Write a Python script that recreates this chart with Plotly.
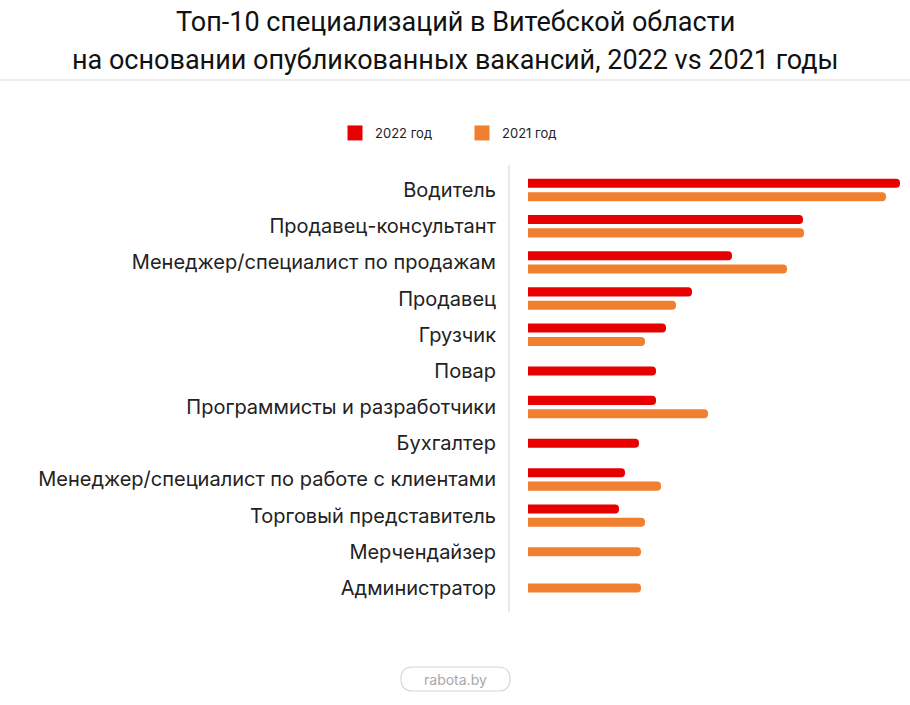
import plotly.graph_objects as go

categories = ["Водитель", "Продавец-консультант", "Менеджер/специалист по продажам",
              "Продавец", "Грузчик", "Повар", "Программисты и разработчики", "Бухгалтер",
              "Менеджер/специалист по работе с клиентами", "Торговый представитель",
              "Мерчендайзер", "Администратор"]
v2022 = [372, 275, 204, 164, 138, 128, 128, 111, 97, 91, None, None]
v2021 = [358, 276, 259, 148, 117, None, 180, None, 133, 117, 113, 113]
series_names = ["2022 год", "2021 год"]

RED = "#e60000"
ORANGE = "#f07f2f"
FONT = "Inter"
TFONT = "Roboto"

W, H = 910, 705
PL, PW, PT, PH = 510, 400, 165, 447


def px_x(x):
    return (x - PL) / PW


def px_y(y):
    return (PT + PH - y) / PH


BW = 0.25   # bar thickness in category units
GAP = 0.37  # distance between pair centres
off22, off21 = [], []
for a, b in zip(v2022, v2021):
    if a is not None and b is not None:
        off22.append(-GAP / 2 - BW / 2)
        off21.append(GAP / 2 - BW / 2)
    else:
        off22.append(-BW / 2)
        off21.append(-BW / 2)

fig = go.Figure()
for vals, offs, col, name in [(v2022, off22, RED, series_names[0]),
                              (v2021, off21, ORANGE, series_names[1])]:
    fig.add_trace(go.Bar(y=categories, x=vals, orientation="h", name=name,
                         legendgroup=name, showlegend=False,
                         marker=dict(color=col, line=dict(width=0), cornerradius="50%"),
                         width=BW, offset=offs, hoverinfo="y+x"))
for col, name in [(RED, series_names[0]), (ORANGE, series_names[1])]:
    fig.add_trace(go.Scatter(x=[None], y=[None], mode="markers", name=name,
                             legendgroup=name, showlegend=True, hoverinfo="skip",
                             marker=dict(symbol="square", size=15, color=col,
                                         line=dict(width=0))))

unit = 36.18
fig.update_layout(
    width=W, height=H,
    margin=dict(l=PL, r=W - PL - PW, t=PT, b=H - PT - PH, pad=0),
    paper_bgcolor="white", plot_bgcolor="white",
    barmode="overlay",
    font=dict(family=FONT, color="#222222"),
    xaxis=dict(range=[-18, 382], visible=False, fixedrange=True),
    yaxis=dict(type="category", categoryarray=categories,
               range=[11 + (PT + PH - 588) / unit, -(190 - PT) / unit],
               showgrid=False, zeroline=False, showline=True, linecolor="#e8e8e8",
               linewidth=2, ticks="", ticklabelstandoff=8,
               tickfont=dict(size=20, color="#222222", family=FONT), fixedrange=True),
    legend=dict(orientation="h", x=px_x(335), y=px_y(133), xanchor="left", yanchor="middle",
                font=dict(size=13, color="#222222", family=FONT), entrywidth=82,
                entrywidthmode="pixels", itemsizing="trace",
                itemclick=False, itemdoubleclick=False),
    showlegend=True,
)

# Title (two lines)
fig.add_annotation(text="Топ-10 специализаций в Витебской области", xref="paper", yref="paper",
                   x=px_x(455), y=px_y(22), xanchor="center", yanchor="middle", showarrow=False,
                   font=dict(size=27, color="#111111", family=TFONT))
fig.add_annotation(text="на основании опубликованных вакансий, 2022 vs 2021 годы", xref="paper",
                   yref="paper", x=px_x(455), y=px_y(60), xanchor="center", yanchor="middle",
                   showarrow=False, font=dict(size=27, color="#111111", family=TFONT))

# separator line under title
fig.add_shape(type="line", xref="paper", yref="paper", x0=px_x(0), x1=px_x(W),
              y0=px_y(80), y1=px_y(80), line=dict(color="#ececec", width=2))

# footer pill
x0, x1, y0, y1, r = 401, 510, 667, 691, 12


def P(x, y):
    return f"{px_x(x)},{px_y(y)}"


path = (f"M {P(x0 + r, y0)} L {P(x1 - r, y0)} "
        f"Q {P(x1, y0)} {P(x1, y0 + r)} Q {P(x1, y1)} {P(x1 - r, y1)} "
        f"L {P(x0 + r, y1)} Q {P(x0, y1)} {P(x0, y1 - r)} Q {P(x0, y0)} {P(x0 + r, y0)} Z")
fig.add_shape(type="path", xref="paper", yref="paper", path=path,
              line=dict(color="#d6d6d6", width=1.2), fillcolor="white")
fig.add_annotation(text="rabota.by", xref="paper", yref="paper", x=px_x(455.5), y=px_y(679),
                   xanchor="center", yanchor="middle", showarrow=False,
                   font=dict(size=14, color="#a8a8a8", family=FONT))

fig.write_html("out.html", config={"displayModeBar": False})
